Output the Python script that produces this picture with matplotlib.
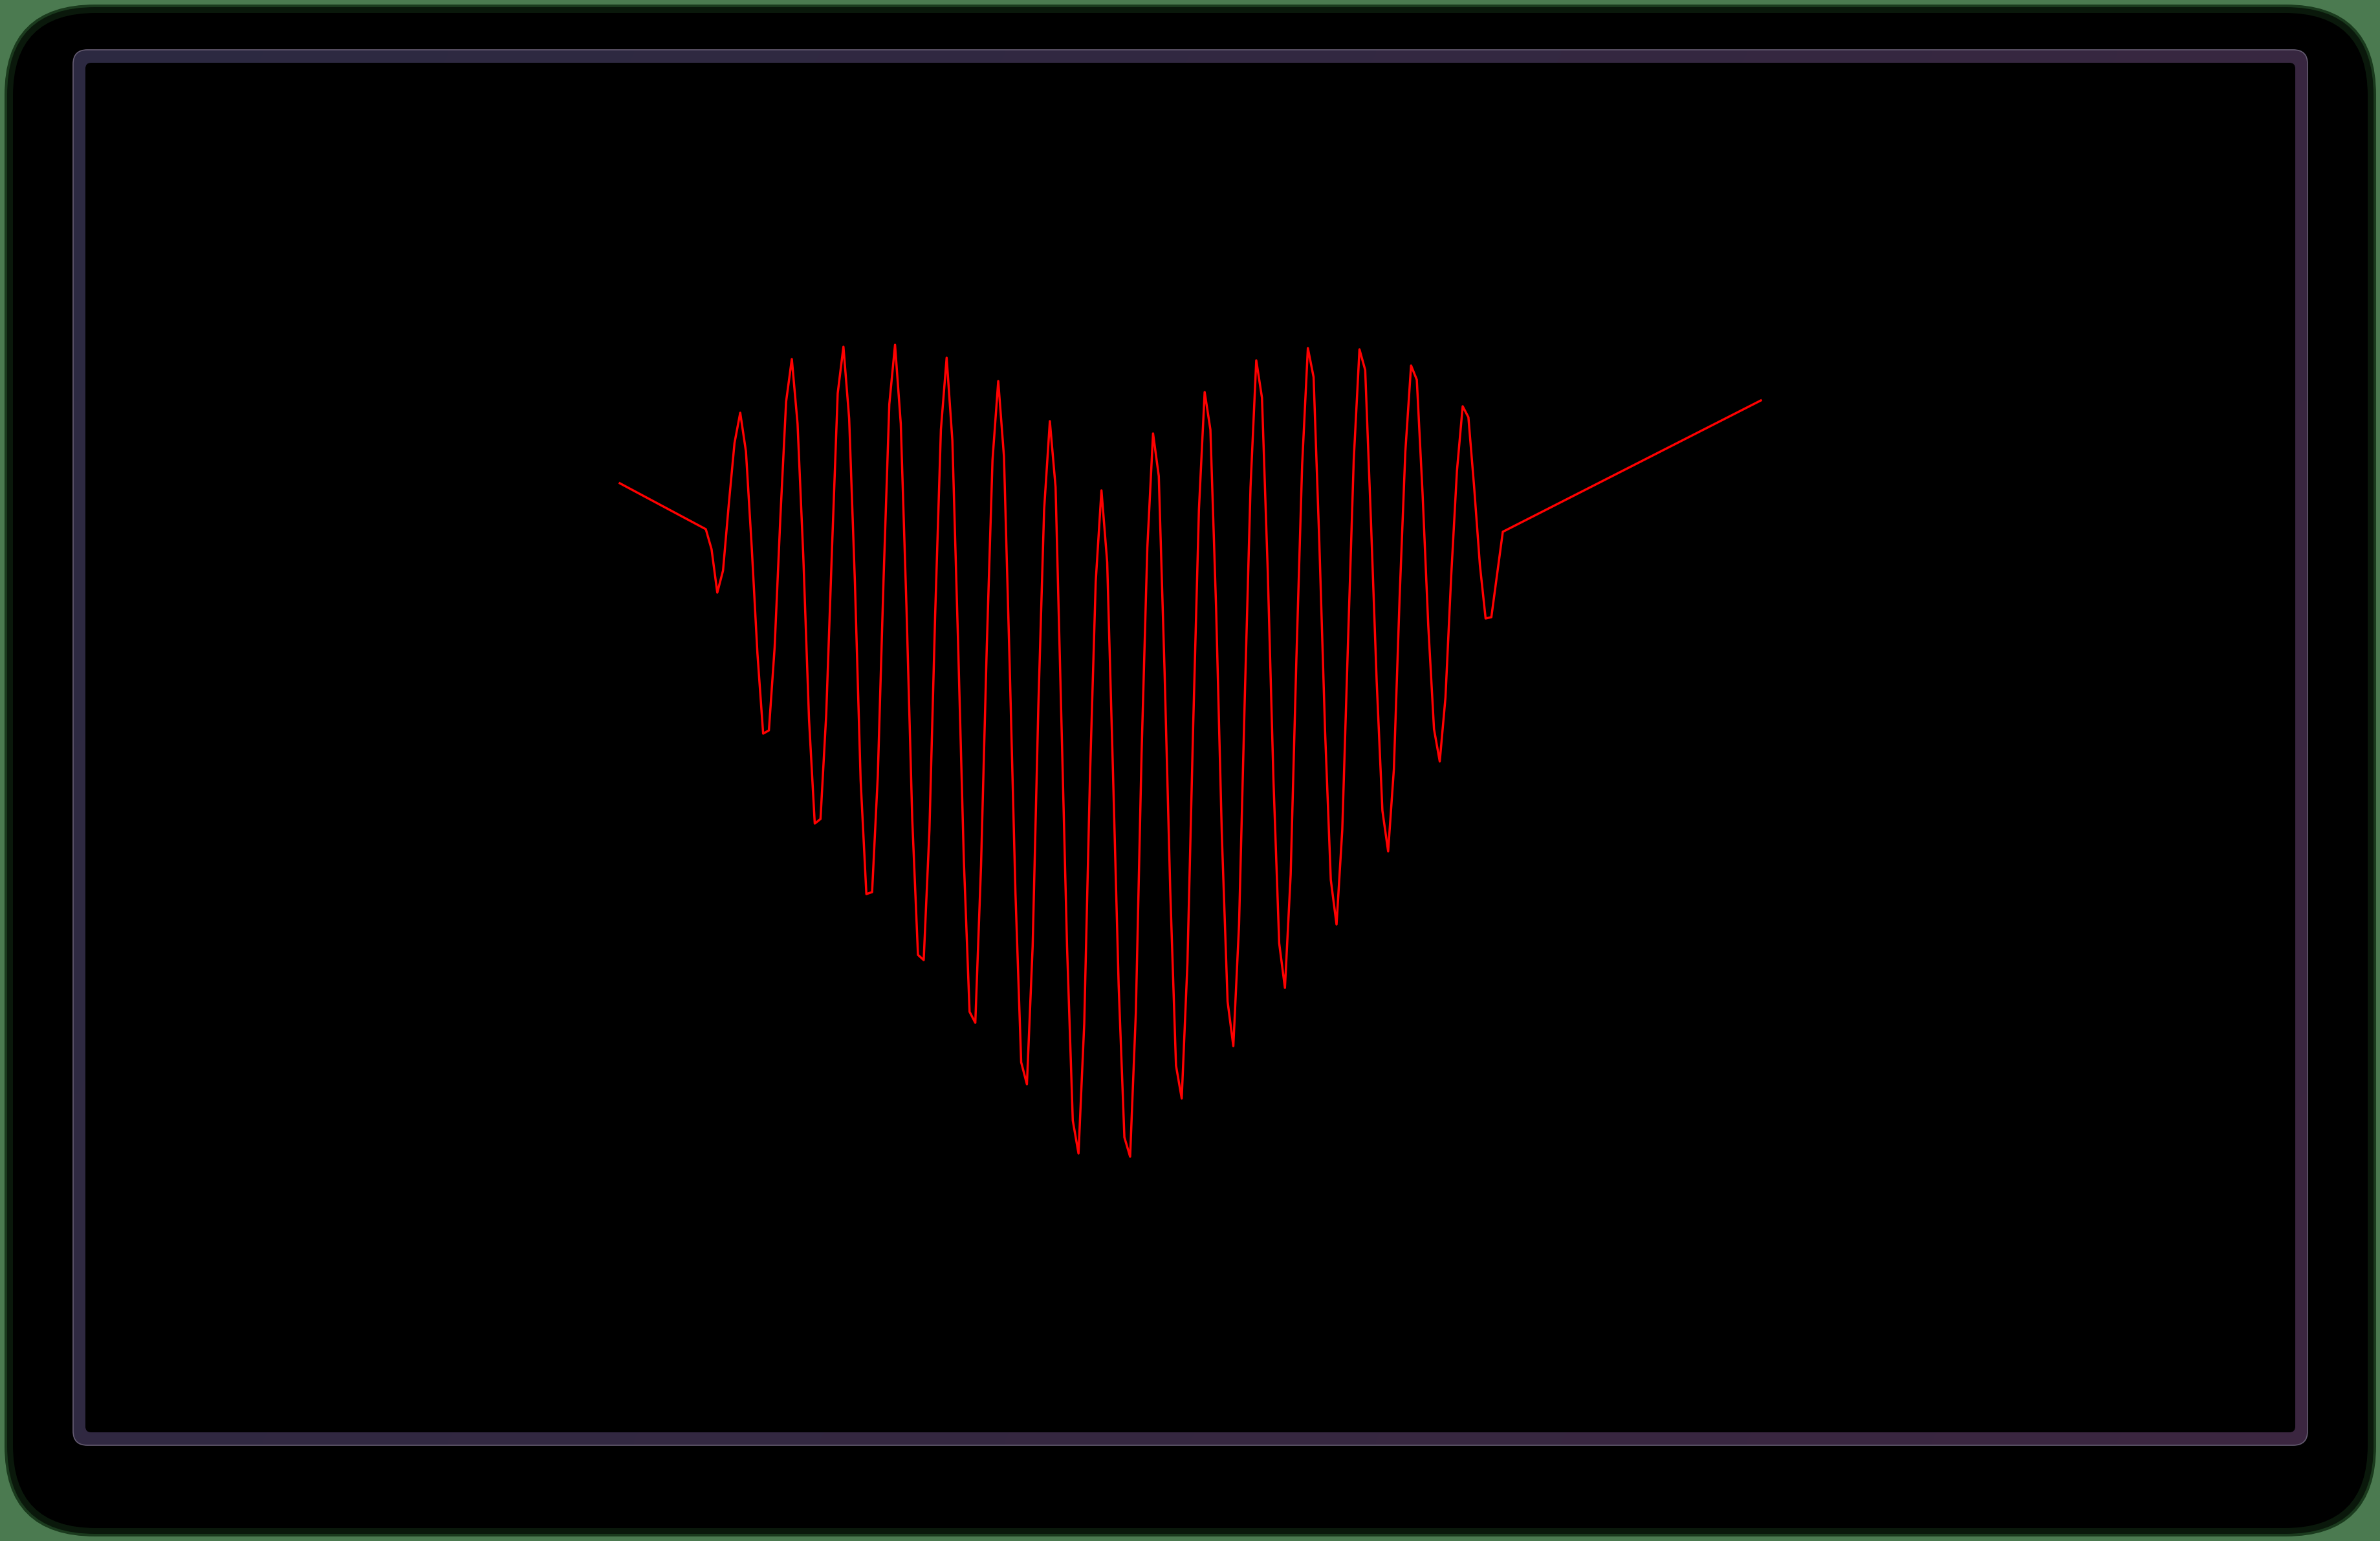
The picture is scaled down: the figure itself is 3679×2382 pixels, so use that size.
import numpy as np
import matplotlib
matplotlib.use("Agg")
import matplotlib.pyplot as plt
from matplotlib.patches import FancyBboxPatch

# ---------------- data ----------------
# sample index of each point (uniform sampling; straight end segments kept by endpoints)
t_start = [0]
t_dense = list(range(15, 155))
t_end = [199]

v_start = [4.53]
v_dense = [
    3.82, 3.51, 2.84, 3.18, 4.20, 5.15, 5.62, 5.02, 3.55, 1.90,
    0.66, 0.71, 1.99, 4.00, 5.79, 6.45, 5.45, 3.40, 0.88, -0.73,
    -0.66, 0.96, 3.50, 5.92, 6.64, 5.53, 3.00, -0.06, -1.82, -1.79,
    0.02, 3.05, 5.75, 6.67, 5.45, 2.60, -0.66, -2.76, -2.84, -0.83,
    2.50, 5.36, 6.47, 5.19, 2.05, -1.30, -3.64, -3.81, -1.38, 2.00,
    4.89, 6.11, 4.94, 1.70, -1.80, -4.42, -4.76, -2.63, 1.10, 4.12,
    5.49, 4.47, 0.90, -2.63, -5.32, -5.83, -3.82, 0.00, 3.01, 4.42,
    3.31, 0.10, -3.23, -5.58, -5.88, -3.65, 0.36, 3.53, 5.30, 4.64,
    1.65, -1.77, -4.47, -4.98, -2.88, 0.79, 4.12, 5.94, 5.36, 2.59,
    -0.92, -3.48, -4.17, -2.29, 1.22, 4.47, 6.43, 5.85, 3.18, -0.06,
    -2.58, -3.27, -1.52, 1.82, 4.81, 6.62, 6.17, 3.61, 0.70, -1.60,
    -2.29, -0.83, 2.07, 4.89, 6.60, 6.28, 3.95, 1.47, -0.53, -1.16,
    0.11, 2.76, 5.02, 6.35, 6.13, 4.38, 2.33, 0.73, 0.23, 1.22,
    3.10, 4.72, 5.72, 5.55, 4.47, 3.27, 2.44, 2.46, 3.12, 3.78,
]
v_end = [5.81]

t_all = np.array(t_start + t_dense + t_end, dtype=float)
v_all = np.array(v_start + v_dense + v_end, dtype=float)

# ---------------- figure ----------------
W, H = 3680, 2382
DPI = 200
fig = plt.figure(figsize=(W / DPI, H / DPI), dpi=DPI)
fig.patch.set_facecolor("#4b7a50")

# decoration layer in pixel space
bg = fig.add_axes([0, 0, 1, 1])
bg.set_xlim(0, W)
bg.set_ylim(H, 0)
bg.axis("off")
bg.patch.set_alpha(0)


def rrect(x0, y0, x1, y1, r, **kw):
    p = FancyBboxPatch((x0, y0), x1 - x0, y1 - y0,
                       boxstyle=f"round,pad=0,rounding_size={r}", **kw)
    bg.add_patch(p)
    return p


# dark outer card with soft fringe
rrect(7, 7, W - 7, H - 7, 140, facecolor="#1a3a1d", edgecolor="none", zorder=1)
rrect(11, 11, W - 11, H - 11, 136, facecolor="#0a180b", edgecolor="none", zorder=2)
rrect(20, 20, W - 20, H - 20, 128, facecolor="#000000", edgecolor="none", zorder=3)

# gradient frame
fx0, fy0, fx1, fy1 = 113, 77, 3567, 2234
outer = rrect(fx0, fy0, fx1, fy1, 22, facecolor="none",
              edgecolor="#655c72", linewidth=0.6, zorder=6)
c1 = np.array([44, 42, 66]) / 255.0
c2 = np.array([60, 38, 64]) / 255.0
gx = np.linspace(0, 1, 256)
gy = np.linspace(0, 1, 160)
GX, GY = np.meshgrid(gx, gy)
frac = (GX * 0.75 + GY * 0.25)[..., None]
grad = c1 * (1 - frac) + c2 * frac
im = bg.imshow(grad, extent=(fx0, fx1, fy1, fy0), aspect="auto",
               interpolation="bilinear", zorder=5)
clip = FancyBboxPatch((fx0, fy0), fx1 - fx0, fy1 - fy0,
                      boxstyle="round,pad=0,rounding_size=22",
                      facecolor="none", edgecolor="none", transform=bg.transData)
bg.add_patch(clip)
im.set_clip_path(clip)
rrect(132, 97, 3548, 2214, 9, facecolor="#000000", edgecolor="none", zorder=7)

# data layer
ax = fig.add_axes([0, 0, 1, 1])
ax.patch.set_alpha(0)
ax.axis("off")
ax.set_xlim(-108.1, 307.1)
ax.set_ylim(-11.82, 12.0)
ax.plot(t_all, v_all, color="#ff0000", linewidth=1.25, zorder=10)

fig.savefig("out.png", dpi=DPI, facecolor=fig.get_facecolor())
